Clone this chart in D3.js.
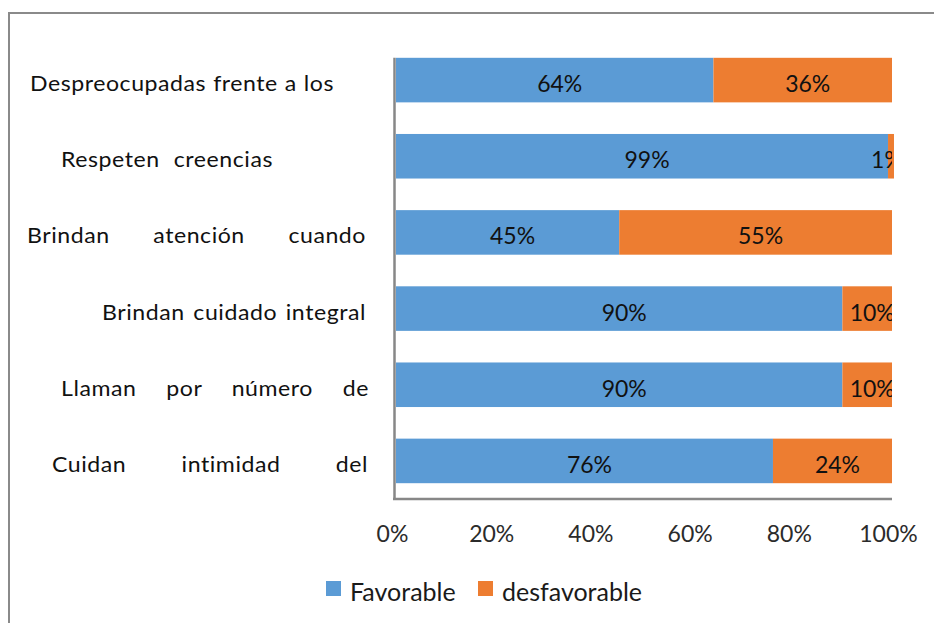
<!DOCTYPE html>
<html>
<head>
<meta charset="utf-8">
<script src="https://cdn.jsdelivr.net/npm/d3@7"></script>
<style>
  html, body { margin: 0; padding: 0; background: #fff; }
  svg { display: block; font-family: Lato, "Open Sans", sans-serif; }
</style>
</head>
<body>
<svg width="934" height="623"></svg>
<script>
// data
const categories = [
  "Despreocupadas frente a los",
  "Respeten creencias",
  "Brindan atención cuando",
  "Brindan cuidado integral",
  "Llaman por número de",
  "Cuidan intimidad del"
];
const favorable = [64, 99.2, 45, 90, 90, 76];
const desfavorable = [36, 1.2, 55, 10, 10, 24];
const seriesNames = ["Favorable", "desfavorable"];
const xTicks = [0, 20, 40, 60, 80, 100];

// layout of the wrapped category labels (left and right edge of the visible line)
const labelEdges = [[30, 334], [61, 273], [27, 366], [102, 366], [61, 369], [52, 368]];
const stretch = 1.1; // original text is a bit wider than Lato

const colors = ["#5B9BD5", "#ED7D31"];
const axisGrey = "#878787";

const svg = d3.select("svg");

svg.append("rect")
    .attr("x", 9).attr("y", 13)
    .attr("width", 1000).attr("height", 1000)
    .attr("fill", "none")
    .attr("stroke", "#8a8a8a")
    .attr("stroke-width", 2);

const x = d3.scaleLinear().domain([0, 100]).range([396, 892]);
const y = d3.scaleBand().domain(categories).range([42, 499])
    .paddingInner(0.415).paddingOuter(0.2075);

const rows = categories.map((c, i) => ({ cat: c, vals: [favorable[i], desfavorable[i]] }));
const stack = d3.stack().keys([0, 1]).value((d, k) => d.vals[k]);
const series = stack(rows);

svg.append("clipPath").attr("id", "plotclip")
  .append("rect").attr("x", x(0)).attr("y", 0).attr("width", x(100) - x(0)).attr("height", 623);

const groups = svg.append("g").selectAll("g")
  .data(series)
  .join("g")
    .attr("fill", (d, i) => colors[i]);

groups.selectAll("rect")
  .data(d => d)
  .join("rect")
    .attr("x", d => x(d[0]))
    .attr("y", d => y(d.data.cat))
    .attr("width", d => x(d[1]) - x(d[0]))
    .attr("height", y.bandwidth());

// data labels
const labels = svg.append("g").attr("clip-path", "url(#plotclip)");
series.forEach(s => {
  labels.selectAll(null)
    .data(s)
    .join("text")
      .attr("x", d => Math.min((x(d[0]) + x(d[1])) / 2 + 5, x(100) - 5))
      .attr("y", d => y(d.data.cat) + y.bandwidth() / 2 + 12)
      .attr("text-anchor", "middle")
      .attr("font-size", 23)
      .attr("fill", "#111")
      .text(d => Math.round(d[1] - d[0]) + "%");
});

// axes
svg.append("line")
    .attr("x1", 394.5).attr("x2", 394.5)
    .attr("y1", y(categories[0])).attr("y2", y.range()[1] + 1)
    .attr("stroke", axisGrey).attr("stroke-width", 2.5);

const xAxis = svg.append("g")
    .attr("transform", `translate(0,${y.range()[1]})`)
    .call(d3.axisBottom(x).tickValues(xTicks).tickFormat(d => d + "%").tickSize(0));
xAxis.select(".domain")
    .attr("d", `M393,0H${x(100)}`)
    .attr("stroke", axisGrey).attr("stroke-width", 2.5);
xAxis.selectAll(".tick text")
    .attr("y", 43).attr("dy", 0).attr("dx", -4)
    .attr("font-family", "Lato, sans-serif")
    .attr("font-size", 23)
    .attr("fill", "#2b2b2b");

// category labels, spread like the justified text of the original
const catText = svg.append("g").selectAll("text")
  .data(categories)
  .join("text")
    .attr("transform", (d, i) =>
      `translate(${labelEdges[i][0]},${y(d) + y.bandwidth() / 2 + 11}) scale(${stretch},1)`)
    .attr("font-size", 21)
    .attr("letter-spacing", 0.5)
    .attr("fill", "#111")
    .text(d => d);
catText.each(function(d, i) {
  const natural = this.getComputedTextLength();
  const gaps = d.split(" ").length - 1;
  const target = (labelEdges[i][1] - labelEdges[i][0]) / stretch;
  if (gaps > 0) d3.select(this).attr("word-spacing", (target - natural) / gaps);
});

// legend
const legend = svg.append("g").attr("transform", "translate(326,581)");
const item = legend.selectAll("g")
  .data(seriesNames)
  .join("g")
    .attr("transform", (d, i) => `translate(${i * 152},0)`);
item.append("rect")
    .attr("width", 15).attr("height", 15)
    .attr("fill", (d, i) => colors[i]);
item.append("text")
    .attr("x", 24).attr("y", 20)
    .attr("font-size", 25)
    .attr("fill", "#1a1a1a")
    .text(d => d);
</script>
</body>
</html>
